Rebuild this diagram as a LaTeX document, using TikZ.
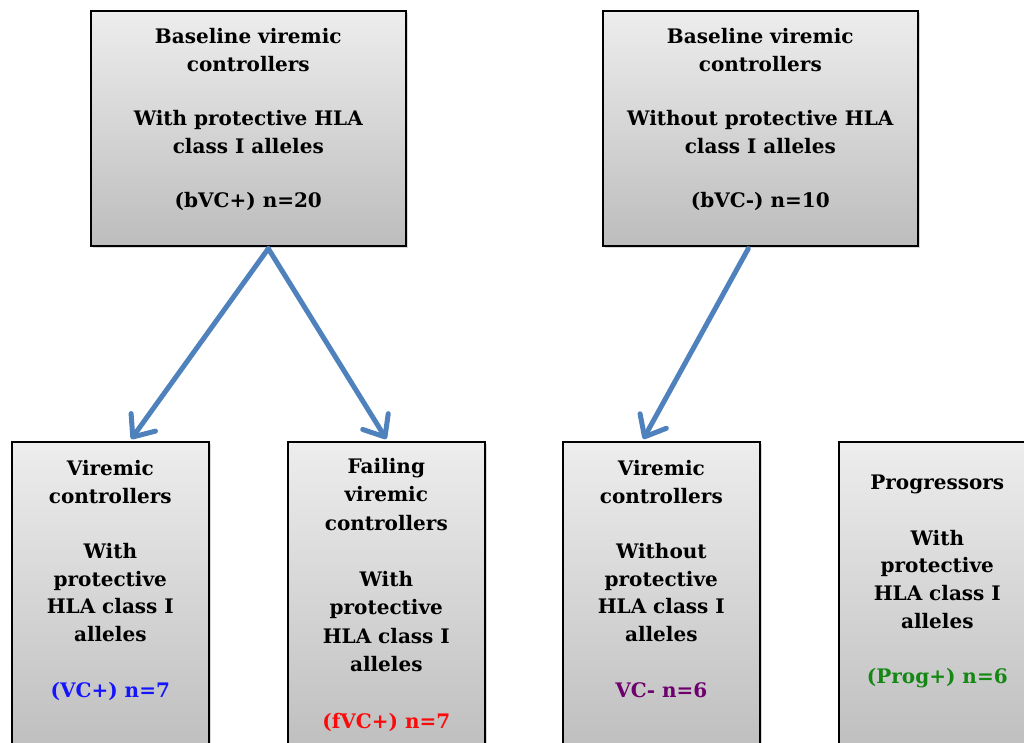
\documentclass[tikz,border=0pt]{standalone}
\usepackage{fontspec}
\setmainfont{DejaVu Serif}
\usepackage{tikz}
\usetikzlibrary{arrows.meta,positioning,calc,shadows}
\definecolor{arrowblue}{RGB}{79,129,189}
\definecolor{vcblue}{RGB}{20,20,255}
\definecolor{fvcred}{RGB}{250,10,10}
\definecolor{vcpurple}{RGB}{110,0,110}
\definecolor{proggreen}{RGB}{20,135,20}

\begin{document}
\begin{tikzpicture}[x=1pt, y=-1pt,
    grpbox/.style={draw=black, line width=1.6pt, top color=black!7, bottom color=black!26,
      drop shadow={shadow xshift=2.5pt, shadow yshift=-2.5pt, opacity=0.3},
      anchor=north west, inner sep=0pt},
    topbox/.style={grpbox, minimum width=315pt, minimum height=235pt},
    lowbox/.style={grpbox, minimum width=197pt, minimum height=320pt},
    grptext/.style={font=\fontsize{20}{27.7}\selectfont\bfseries, align=center, inner sep=0pt},
    splitarrow/.style={draw=arrowblue, line width=5pt, line cap=round,
      -{Straight Barb[length=18pt, width=30pt, round]}}]
  \path[use as bounding box, clip] (0,0) rectangle (1024,742);
  \fill[white] (0,0) rectangle (1024,742);

  % baseline groups
  \node[topbox] (bvcp) at (90,10) {};
  \node[topbox] (bvcm) at (602,10) {};
  \node[grptext, below=18pt of bvcp.north] (bvcp-txt) {Baseline viremic\\controllers\\[26.5pt]With protective HLA\\class I alleles\\[27pt](bVC+) n=20};
  \node[grptext, below=18pt of bvcm.north] (bvcm-txt) {Baseline viremic\\controllers\\[26.5pt]Without protective HLA\\class I alleles\\[27pt](bVC-) n=10};

  % follow-up groups
  \node[lowbox] (vcp) at (11,441) {};
  \node[lowbox] (fvcp) at (287,441) {};
  \node[lowbox] (vcm) at (562,441) {};
  \node[lowbox] (progp) at (838,441) {};
  \node[grptext, below=19pt of vcp.north] (vcp-txt) {Viremic\\controllers\\[27.7pt]With\\protective\\HLA class I\\alleles\\[27.7pt]\textcolor{vcblue}{(VC+) n=7}};
  \node[grptext, below=17pt of fvcp.north, font=\fontsize{20}{28.3}\selectfont\bfseries] (fvcp-txt) {Failing\\viremic\\controllers\\[28.3pt]With\\protective\\HLA class I\\alleles\\[28.3pt]\textcolor{fvcred}{(fVC+) n=7}};
  \node[grptext, below=19pt of vcm.north] (vcm-txt) {Viremic\\controllers\\[27.7pt]Without\\protective\\HLA class I\\alleles\\[27.7pt]\textcolor{vcpurple}{VC- n=6}};
  \node[grptext, below=34pt of progp.north] (progp-txt) {Progressors\\[27.7pt]With\\protective\\HLA class I\\alleles\\[27.7pt]\textcolor{proggreen}{(Prog+) n=6}};

  % arrows
  \coordinate (split-l) at ($(bvcp.south)+(20,2)$);
  \coordinate (split-r) at ($(bvcm.south)+(-12,2)$);
  \draw[splitarrow] (split-l) -- ($(vcp.north)+(21,-2)$);
  \draw[splitarrow] (split-l) -- ($(fvcp.north)+(0,-2)$);
  \draw[splitarrow] (split-r) -- ($(vcm.north)+(-18,-2)$);
\end{tikzpicture}
\end{document}
